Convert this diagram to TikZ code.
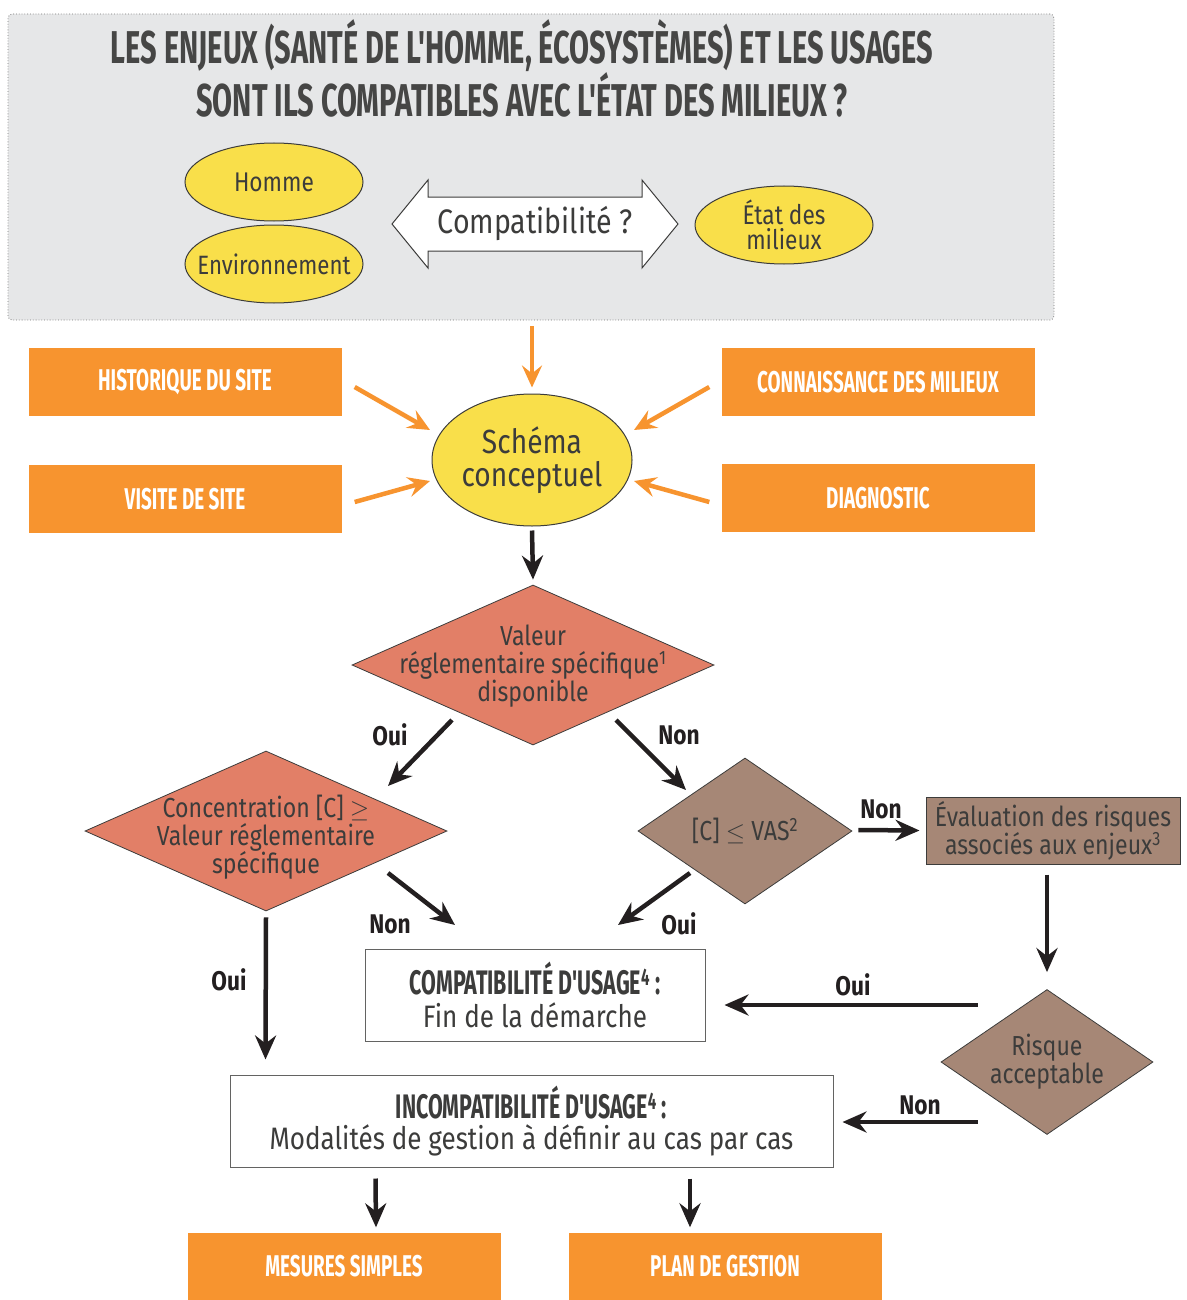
\documentclass[tikz,border=0pt]{standalone}
\usepackage{fontspec}
\setmainfont{Fira Sans}[FakeStretch=0.84]
\newfontfamily\headfont{Fira Sans}[UprightFont={* Bold},FakeStretch=0.63]
\usetikzlibrary{shapes.geometric,arrows.meta,calc}

\definecolor{orng}{HTML}{F7942F}
\definecolor{ylw}{HTML}{F9DF4A}
\definecolor{salm}{HTML}{E27F67}
\definecolor{brwn}{HTML}{A68776}
\definecolor{panel}{HTML}{E6E7E8}
\definecolor{ink}{HTML}{3C3C3B}
\definecolor{blk}{HTML}{231F20}

\tikzset{
  x=1pt, y=-1pt,
  body/.style={text=ink, font=\fontsize{27.5}{28}\selectfont, align=center},
  obox/.style={rectangle, fill=orng, minimum width=313, minimum height=68, inner sep=0,
    text=white, font=\headfont\fontsize{30}{32}\selectfont},
  yell/.style={ellipse, draw=ink, line width=1, fill=ylw, minimum width=178, minimum height=78, inner sep=0},
  salmd/.style={diamond, draw=ink, line width=0.8, fill=salm, inner sep=0},
  brownd/.style={diamond, draw=ink, line width=0.8, fill=brwn, inner sep=0},
  wbox/.style={rectangle, draw=ink!80, line width=1, fill=white, inner sep=0, align=center},
  lab/.style={text=blk, font=\bfseries\fontsize{27}{28}\selectfont},
  oarr/.style={draw=orng, line width=4.5, -{Stealth[length=22pt,width=20pt,inset=8pt]}},
  karr/.style={draw=blk, line width=4.5, -{Stealth[length=24pt,width=21pt,inset=8pt]}},
}
\newcommand\boxhead[1]{{\headfont\fontsize{34}{36}\selectfont\color{ink}#1}}
\newcommand\boxline[1]{{\fontsize{31}{33}\selectfont\color{ink}#1}}

\begin{document}
\begin{tikzpicture}
\useasboundingbox (0,0) rectangle (1186,1300);

% question panel
\node[draw=ink!70, dotted, line width=0.8, fill=panel, rounded corners=4,
      minimum width=1046, minimum height=306, inner sep=0] (panel) at (531,167) {};
\node[font=\headfont\fontsize{46}{52}\selectfont, text=ink!95, align=center] (ttl) at (522,68)
  {LES ENJEUX (SANTÉ DE L'HOMME, ÉCOSYSTÈMES) ET LES USAGES\\SONT ILS COMPATIBLES AVEC L'ÉTAT DES MILIEUX ?};

\node[yell, label={[body, font=\fontsize{27}{28}\selectfont]center:Homme}] (hom) at (274,182) {};
\node[yell, label={[body, font=\fontsize{26.5}{25}\selectfont]center:Environnement}] (env) at (274,264) {};
\node[yell, label={[body, font=\fontsize{27}{25.5}\selectfont]center:{État des\\milieux}}] (etat) at (784,225) {};

% two-headed compatibility arrow
\draw[draw=ink, line width=1, fill=white]
  (392,224) -- (428,180) -- (428,197) -- (642,197) -- (642,180) -- (678,224)
  -- (642,268) -- (642,251) -- (428,251) -- (428,268) -- cycle;
\node[body, font=\fontsize{34}{35}\selectfont] (cmp) at (535,224) {Compatibilité ?};

% inputs of the conceptual model
\node[obox] (hist) at (185,382) {HISTORIQUE DU SITE};
\node[obox] (vis) at (185,499) {VISITE DE SITE};
\node[obox] (conn) at (878,382) {CONNAISSANCE DES MILIEUX};
\node[obox] (diag) at (878,498) {DIAGNOSTIC};

\node[yell, minimum width=200, minimum height=132,
      label={[body, font=\fontsize{33.5}{33}\selectfont]center:{Schéma\\conceptuel}}] (schema) at (532,460) {};

\draw[oarr] ($(panel.south)+(1,6)$) -- ($(schema.north)+(0,-6)$);
\draw[oarr] ($(hist.east)+(13,5)$) -- ($(schema)+(-102,-30)$);
\draw[oarr] ($(vis.east)+(13,3)$) -- ($(schema)+(-102,21)$);
\draw[oarr] ($(conn.west)+(-12,5)$) -- ($(schema)+(102,-30)$);
\draw[oarr] ($(diag.west)+(-12,4)$) -- ($(schema)+(102,21)$);

% decision tree
\node[salmd, minimum width=362, minimum height=160,
      label={[body, yshift=-1]center:{Valeur\\réglementaire spécifique\textsuperscript{1}\\disponible}}] (d1) at (533,665) {};
\node[salmd, minimum width=362, minimum height=160,
      label={[body, yshift=-6]center:{Concentration [C] \ensuremath{\geq}\\Valeur réglementaire\\spécifique}}] (d2) at (266,831) {};
\node[brownd, minimum width=214, minimum height=146,
      label={[body]center:{[C] \ensuremath{\leq} VAS\textsuperscript{2}}}] (d3) at (745,831) {};
\node[rectangle, draw=ink, line width=1, fill=brwn, minimum width=254, minimum height=67, inner sep=0,
      body, font=\fontsize{27.5}{28}\selectfont] (eval) at (1053,830.5)
  {Évaluation des risques\\associés aux enjeux\textsuperscript{3}};
\node[brownd, minimum width=212, minimum height=145,
      label={[body]center:{Risque\\acceptable}}] (d4) at (1047,1062) {};

\node[wbox, minimum width=340, minimum height=92] (compat) at (535,995)
  {\boxhead{COMPATIBILITÉ D'USAGE\textsuperscript{4} :}\\[7pt]
   \boxline{Fin de la démarche}};
\node[wbox, minimum width=603, minimum height=92] (incompat) at (531.5,1121)
  {\boxhead{INCOMPATIBILITÉ D'USAGE\textsuperscript{4} :}\\[5pt]
   \boxline{Modalités de gestion à définir au cas par cas}};

\node[obox] (mes) at (344,1266.5) {MESURES SIMPLES};
\node[obox] (plan) at (725,1266.5) {PLAN DE GESTION};

\draw[karr] ($(schema.south)+(0,4)$) -- ($(d1.north)+(0,-5)$);
\draw[karr] ($(d1)+(-81,55)$) -- ($(d2)+(122,-45)$);
\draw[karr] ($(d1)+(83,55)$) -- ($(d3)+(-59,-41)$);
\draw[karr] ($(d2)+(122,42)$) -- ($(compat)+(-80,-70)$);
\draw[karr] ($(d3)+(-55,42)$) -- ($(compat)+(83,-70)$);
\draw[karr] ($(d3.east)+(6,-1)$) -- ($(eval.west)+(-6,0)$);
\draw[karr] ($(eval.south -| d4)+(0,10)$) -- ($(d4.north)+(0,-17)$);
\draw[karr] ($(d4.west)+(37,-57)$) -- ($(compat.east)+(19,10)$);
\draw[karr] ($(d4.west)+(37,60)$) -- ($(incompat.east)+(9,1)$);
\draw[karr] ($(d2.south)+(0,6)$) -- ($(incompat.north west)+(36,-15)$);
\draw[karr] ($(incompat.south west)+(146,11)$) -- ($(mes.north)+(32,-5)$);
\draw[karr] ($(incompat.south)+(158.5,11)$) -- ($(plan.north)+(-35,-5)$);

% branch labels
\node[lab] (l1) at (390,735) {Oui};
\node[lab] (l2) at (679,735) {Non};
\node[lab] (l3) at (390,924) {Non};
\node[lab] (l4) at (679,924) {Oui};
\node[lab] (l5) at (881,809) {Non};
\node[lab] (l6) at (229,980) {Oui};
\node[lab] (l7) at (853,985) {Oui};
\node[lab] (l8) at (920,1105) {Non};
\end{tikzpicture}
\end{document}
